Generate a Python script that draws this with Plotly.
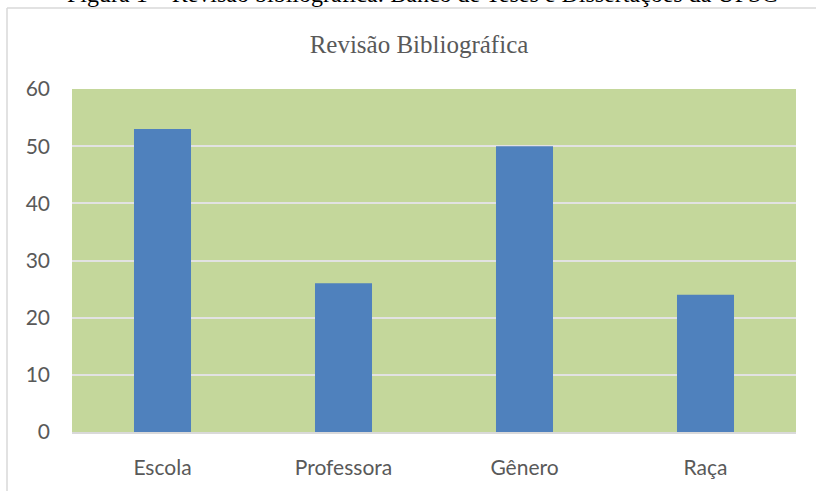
import plotly.graph_objects as go

categories = ["Escola", "Professora", "Gênero", "Raça"]
values = [53, 26, 50, 24]
y_ticks = [0, 10, 20, 30, 40, 50, 60]

W, H = 816, 491
L, R, T, B = 72, 20, 89, 57
pw, ph = W - L - R, H - T - B

def px_x(x):
    return (x - L) / pw

def px_y(y):
    return (H - B - y) / ph

fig = go.Figure(go.Bar(
    x=categories, y=values,
    marker=dict(color="#4f81bd", line=dict(width=0)),
    width=0.315,
))

fig.update_layout(
    width=W, height=H,
    margin=dict(l=L, r=R, t=T, b=B),
    paper_bgcolor="white",
    plot_bgcolor="#c4d79b",
    showlegend=False,
    title=dict(text="Revisão Bibliográfica", x=419 / W, xanchor="center",
               y=1 - 44 / H, yanchor="middle",
               font=dict(family="Liberation Serif", size=25, color="#595959")),
    xaxis=dict(showgrid=False, showline=True, linecolor="#d9d9d9", linewidth=2,
               ticks="", tickfont=dict(family="Lato", size=21, color="#595959"),
               ticklabelstandoff=16),
    yaxis=dict(range=[0, 60], tickvals=y_ticks, showgrid=True, gridcolor="#e2e2e2",
               gridwidth=1.5, zeroline=False, showline=False, ticks="",
               tickfont=dict(family="Lato", size=21, color="#595959"),
               ticklabelstandoff=21),
    shapes=[
        dict(type="line", xref="paper", yref="paper",
             x0=px_x(7), x1=px_x(7), y0=px_y(495), y1=px_y(7.5),
             line=dict(color="#d9d9d9", width=1.5)),
        dict(type="line", xref="paper", yref="paper",
             x0=px_x(7), x1=px_x(820), y0=px_y(7.5), y1=px_y(7.5),
             line=dict(color="#d9d9d9", width=1.5)),
    ],
    annotations=[
        dict(text="Figura 1 – Revisão bibliográfica: Banco de Teses e Dissertações da UFSC",
             xref="paper", yref="paper", x=px_x(422), y=px_y(-7),
             xanchor="center", yanchor="middle", showarrow=False,
             font=dict(family="Liberation Serif", size=24, color="black")),
    ],
)

fig.write_html("out.html", config={"displayModeBar": False},
               post_script="document.body.style.margin='0';")
